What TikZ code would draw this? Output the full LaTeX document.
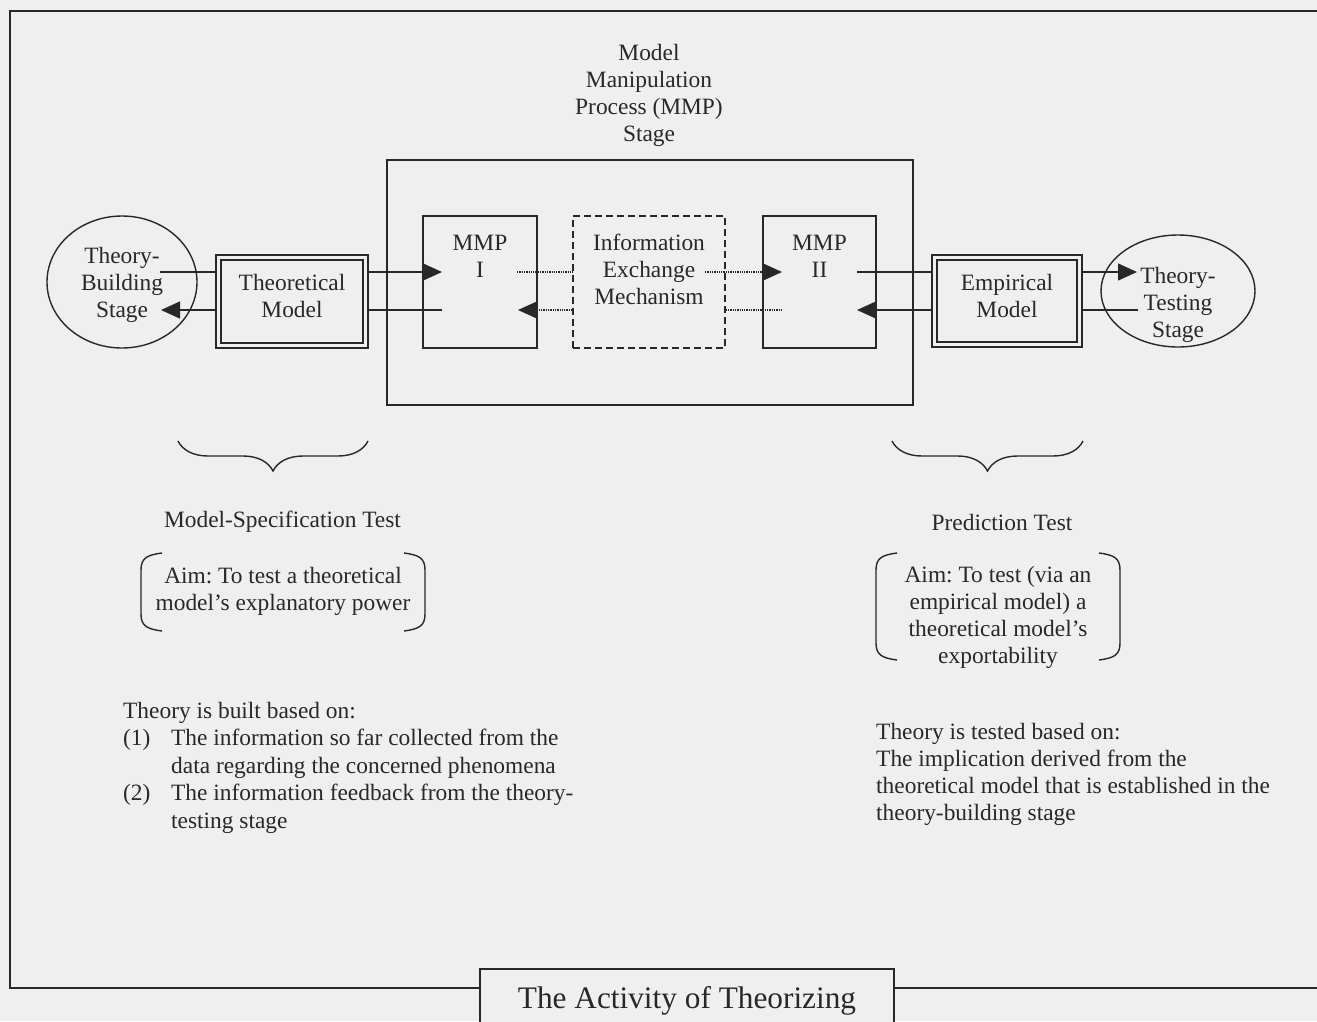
\documentclass[tikz,border=0pt]{standalone}
\usepackage{fontspec}
\setmainfont{Liberation Serif}
\usetikzlibrary{arrows.meta,shapes.geometric,decorations.pathreplacing,backgrounds}
\definecolor{paper}{RGB}{239,239,239}
\definecolor{ink}{RGB}{40,40,40}
\frenchspacing
\begin{document}
\begin{tikzpicture}[x=1pt,y=-1pt,
  every node/.style={font=\fontsize{23.4}{27}\selectfont, text=ink},
  txt/.style={align=center, inner sep=0pt},
  box/.style={draw=ink, line width=1.4pt, inner sep=0pt},
  dbox/.style={draw=ink, line width=1.6pt, double=paper, double distance=3pt, fill=paper, inner sep=0pt},
  oval/.style={ellipse, draw=ink, line width=1.4pt, inner sep=0pt},
  link/.style={draw=ink, line width=1.3pt},
  dlink/.style={draw=ink, line width=1.3pt, densely dotted},
  tip/.style={-{Triangle[length=19pt,width=17pt]}},
  curly/.style={draw=ink, line width=1.4pt, decorate, decoration={brace, mirror, amplitude=30pt}},
  bracket/.style={draw=ink, line width=1.4pt},
]
\useasboundingbox (0,0) rectangle (1317,1021);
\begin{scope}[on background layer]
  \fill[paper] (0,0) rectangle (1317,1021);
\end{scope}

% outer frame, open on the right
\draw[ink, line width=1.8pt] (1330,11) -- (10,11) -- (10,988) -- (1330,988);

% model manipulation process stage
\node[txt] (mmptitle) at (649,95) {Model\\Manipulation\\Process (MMP)\\Stage};
\node[box, minimum width=526, minimum height=245] (mmp) at (650,282.5) {};
\node[box, minimum width=114, minimum height=132] (mmpI) at (480,282) {};
\node[txt] (mmpItext) at (480,256) {MMP\\I};
\node[box, dash pattern=on 7pt off 4pt, minimum width=152, minimum height=132] (info) at (649,282) {};
\node[txt] (infotext) at (649,269) {Information\\Exchange\\Mechanism};
\node[box, minimum width=113, minimum height=132] (mmpII) at (819.5,282) {};
\node[txt] (mmpIItext) at (819.5,256) {MMP\\II};

% models and stages
\node[dbox, minimum width=147, minimum height=88] (theo) at (292,301.5) {};
\node[txt] (theotext) at (292,296) {Theoretical\\Model};
\node[dbox, minimum width=145, minimum height=87] (emp) at (1007,301) {};
\node[txt] (emptext) at (1007,296) {Empirical\\Model};
\node[oval, minimum width=150, minimum height=132] (build) at (122,282) {};
\node[txt] (buildtext) at (122,285) {Theory-\\Building\\Stage};
\node[oval, minimum width=154, minimum height=112] (test) at (1178,291) {};
\node[txt] (testtext) at (1178,304.5) {Theory-\\Testing\\Stage};

% connector ends
\coordinate (a1) at (160,272);  \coordinate (a2) at (442,272);
\coordinate (b1) at (442,310);  \coordinate (b2) at (161,310);
\coordinate (c1) at (517,272);  \coordinate (c2) at (705,272);  \coordinate (c3) at (782,272);
\coordinate (d1) at (518,310);  \coordinate (d2) at (783,310);
\coordinate (e1) at (857,272);  \coordinate (e2) at (1137,272);
\coordinate (f1) at (1138,310); \coordinate (f2) at (857,310);

\begin{scope}[on background layer]
  \draw[link, tip] (a1) -- (a2);
  \draw[link, tip] (b1) -- (b2);
  \draw[link, tip] (e1) -- (e2);
  \draw[link, tip] (f1) -- (f2);
  \draw[dlink] (c1) -- (c1 -| info.west);
  \draw[dlink, tip] (c2) -- (c3);
  \draw[dlink, tip] (d1 -| info.west) -- (d1);
  \draw[dlink] (d2 -| info.east) -- (d2);
\end{scope}

% braces
\draw[curly] (178,441) -- (368,441);
\draw[curly] (892,441) -- (1083,441);

\node[txt] (spec) at (282.5,522) {Model-Specification Test};
\node[txt] (pred) at (1002,522) {Prediction Test};

% bracketed aims
\draw[bracket] (162,553) .. controls (147,555) and (141,558) .. (141,570) -- (141,614) .. controls (141,626) and (147,629) .. (162,631);
\draw[bracket] (404,553) .. controls (419,555) and (425,558) .. (425,570) -- (425,614) .. controls (425,626) and (419,629) .. (404,631);
\node[txt] (aimL) at (283,591) {Aim: To test a theoretical\\model's explanatory power};

\draw[bracket] (897,553) .. controls (882,555) and (876,558) .. (876,570) -- (876,643) .. controls (876,655) and (882,658) .. (897,660);
\draw[bracket] (1099,553) .. controls (1114,555) and (1120,558) .. (1120,570) -- (1120,643) .. controls (1120,655) and (1114,658) .. (1099,660);
\node[txt] (aimR) at (998,617.5) {Aim: To test (via an\\empirical model) a\\theoretical model's\\exportability};

% explanatory notes
\node[txt, align=left, anchor=north west, font=\fontsize{23.4}{27.5}\selectfont] (built) at (123,702) {Theory is built based on:\\
\makebox[48pt][l]{(1)}The information so far collected from the\\
\hspace*{48pt}data regarding the concerned phenomena\\
\makebox[48pt][l]{(2)}The information feedback from the theory-\\
\hspace*{48pt}testing stage};
\node[txt, align=left, anchor=north west] (tested) at (876,723) {Theory is tested based on:\\
The implication derived from the\\
theoretical model that is established in the\\
theory-building stage};

% caption
\node[box, fill=paper, minimum width=414, minimum height=64, font=\fontsize{31.3}{36}\selectfont] (title) at (687,1001) {The Activity of Theorizing};
\end{tikzpicture}
\end{document}
